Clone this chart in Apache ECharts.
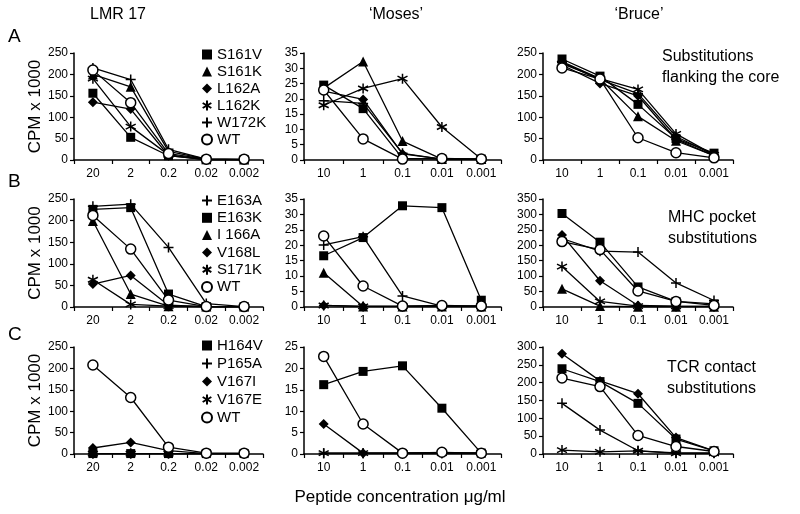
<!DOCTYPE html>
<html>
<head>
<meta charset="utf-8">
<script src="https://cdn.jsdelivr.net/npm/echarts@6/dist/echarts.min.js"></script>
<style>html,body{margin:0;padding:0;background:#fff}#c{width:800px;height:514px}</style>
</head>
<body>
<div id="c"></div>
<script>
// ---- data ----
const concLMR = ['20', '2', '0.2', '0.02', '0.002'];
const concMB = ['10', '1', '0.1', '0.01', '0.001'];
const colTitles = ['LMR 17', '\u2018Moses\u2019', '\u2018Bruce\u2019'];
const rowLetters = ['A', 'B', 'C'];
const rowNotes = [['Substitutions', 'flanking the core'], ['MHC pocket', 'substitutions'], ['TCR contact', 'substitutions']];

const namesA = ['S161V', 'S161K', 'L162A', 'L162K', 'W172K', 'WT'];
const namesB = ['E163A', 'E163K', 'I 166A', 'V168L', 'S171K', 'WT'];
const namesC = ['H164V', 'P165A', 'V167I', 'V167E', 'WT'];

// Row A (flanking), values in CPM x 1000, rows follow namesA
const A_LMR = [
  [156, 53, 10, 1, 1],
  [200, 171, 20, 2, 1],
  [135, 119, 10, 1, 1],
  [190, 78, 12, 1, 1],
  [215, 188, 25, 2, 1],
  [210, 134, 15, 2, 2]
];
const A_Moses = [
  [24.5, 16.8, 0.5, 0.3, 0.3],
  [23.5, 32.2, 6.2, 0.3, 0.3],
  [22.5, 19.8, 2.0, 0.3, 0.3],
  [17.9, 23.4, 26.6, 10.8, 0.3],
  [19.4, 18.5, 2.2, 0.3, 0.3],
  [22.9, 6.9, 0.3, 0.5, 0.3]
];
const A_Bruce = [
  [236, 196, 130, 50, 16],
  [230, 190, 102, 45, 10],
  [222, 179, 150, 48, 10],
  [225, 190, 165, 61, 12],
  [228, 188, 155, 55, 12],
  [215, 189, 52, 17, 5]
];
// Row B (MHC pocket), rows follow namesB
const B_LMR = [
  [233, 238, 138, 8, 1],
  [226, 230, 30, 1, 1],
  [199, 30, 2, 1, 1],
  [53, 73, 4, 1, 1],
  [63, 6, 2, 1, 1],
  [212, 134, 16, 1, 1]
];
const B_Moses = [
  [20.1, 22.8, 3.6, 0.3, 0.3],
  [16.6, 22.5, 32.8, 32.2, 2.2],
  [11.1, 0.2, 0.2, 0.2, 0.2],
  [0.5, 0.2, 0.2, 0.2, 0.2],
  [0.5, 0.2, 0.2, 0.2, 0.2],
  [23.0, 6.8, 0.3, 0.5, 0.3]
];
const B_Bruce = [
  [222, 181, 178, 78, 21],
  [303, 210, 65, 18, 10],
  [59, 3, 1, 1, 1],
  [233, 85, 5, 3, 2],
  [131, 18, 3, 2, 2],
  [212, 186, 52, 18, 5]
];
// Row C (TCR contact), rows follow namesC
const C_LMR = [
  [1, 1, 1, 1, 1],
  [1, 1, 1, 1, 1],
  [14, 27, 8, 1, 1],
  [1, 1, 1, 1, 1],
  [208, 132, 16, 2, 2]
];
const C_Moses = [
  [16.2, 19.3, 20.6, 10.7, 0.2],
  [0.2, 0.2, 0.2, 0.2, 0.2],
  [7.0, 0.2, 0.2, 0.2, 0.2],
  [0.2, 0.2, 0.2, 0.2, 0.2],
  [22.8, 7.0, 0.2, 0.4, 0.2]
];
const C_Bruce = [
  [239, 203, 142, 42, 9],
  [142, 67, 9, 3, 3],
  [281, 205, 169, 46, 9],
  [11, 6, 9, 2, 2],
  [213, 189, 52, 21, 7]
];

const yMax = [[250, 35, 250], [250, 35, 350], [250, 25, 300]];
const yStep = [[50, 5, 50], [50, 5, 50], [50, 5, 50]];

// ---- styles ----
const FONT = '"Liberation Sans", Arial, sans-serif';
const SYM_PLUS = 'path://M5,0L5,10M0,5L10,5';
const SYM_STAR = 'path://M5,0L5,10M0.67,2.5L9.33,7.5M0.67,7.5L9.33,2.5';
const markerOf = {
  'S161V': 'rect', 'S161K': 'triangle', 'L162A': 'diamond', 'L162K': 'star', 'W172K': 'plus', 'WT': 'circle',
  'E163A': 'plus', 'E163K': 'rect', 'I 166A': 'triangle', 'V168L': 'diamond', 'S171K': 'star',
  'H164V': 'rect', 'P165A': 'plus', 'V167I': 'diamond', 'V167E': 'star'
};
function symStyle(kind) {
  switch (kind) {
    case 'rect': return { symbol: 'rect', size: 9, item: { color: '#000' } };
    case 'triangle': return { symbol: 'triangle', size: 10, item: { color: '#000' } };
    case 'diamond': return { symbol: 'diamond', size: 10, item: { color: '#000' } };
    case 'plus': return { symbol: SYM_PLUS, size: 10, item: { color: '#000', borderColor: '#000', borderWidth: 1.5 } };
    case 'star': return { symbol: SYM_STAR, size: 10, item: { color: '#000', borderColor: '#000', borderWidth: 1.5 } };
    default: return { symbol: 'circle', size: 10, item: { color: '#fff', borderColor: '#000', borderWidth: 1.5 } };
  }
}

const colLeft = [74, 304, 543];
const colWidth = [189, 197, 190];
const rowTop = [53, 199, 347];
const rowHeight = [107, 108, 107];

const rows = [
  { names: namesA, data: [A_LMR, A_Moses, A_Bruce] },
  { names: namesB, data: [B_LMR, B_Moses, B_Bruce] },
  { names: namesC, data: [C_LMR, C_Moses, C_Bruce] }
];

const grid = [], xAxis = [], yAxis = [], series = [], legend = [], graphic = [];
rows.forEach((row, r) => {
  for (let c = 0; c < 3; c++) {
    const idx = r * 3 + c;
    grid.push({ left: colLeft[c], top: rowTop[r], width: colWidth[c], height: rowHeight[r] });
    xAxis.push({
      type: 'category', gridIndex: idx, data: c === 0 ? concLMR : concMB, boundaryGap: true,
      axisLine: { lineStyle: { color: '#000', width: 1.5 } },
      axisTick: { show: true, length: 4, interval: 0, lineStyle: { color: '#000', width: 1.2 } },
      axisLabel: { color: '#000', fontSize: 12, fontFamily: FONT, margin: 8, interval: 0, hideOverlap: false },
      splitLine: { show: false }
    });
    yAxis.push({
      type: 'value', gridIndex: idx, min: 0, max: yMax[r][c], interval: yStep[r][c],
      axisLine: { show: true, lineStyle: { color: '#000', width: 1.5 } },
      axisTick: { show: true, length: 4, lineStyle: { color: '#000', width: 1.2 } },
      axisLabel: { color: '#000', fontSize: 12, fontFamily: FONT, margin: 6 },
      splitLine: { show: false },
      name: c === 0 ? 'CPM x 1000' : '', nameLocation: 'middle', nameGap: 30,
      nameTextStyle: { color: '#000', fontSize: 17, fontFamily: FONT }
    });
    row.names.forEach((n, i) => {
      const s = symStyle(markerOf[n]);
      series.push({
        type: 'line', name: n, xAxisIndex: idx, yAxisIndex: idx, data: row.data[c][i],
        symbol: s.symbol, symbolSize: s.size, showAllSymbol: true,
        itemStyle: s.item, lineStyle: { color: '#000', width: 1.3 },
        emphasis: { disabled: true }, animation: false, z: 2 + i
      });
    });
  }
  legend.push({
    orient: 'vertical', left: 201, top: [46, 192, 337][r], padding: 0,
    itemWidth: 10, itemHeight: 10, itemGap: [0, 0.3, 1][r],
    selectedMode: false,
    textStyle: { color: '#000', fontSize: 15, fontFamily: FONT, lineHeight: 17 },
    data: row.names.map(n => ({ name: n, icon: symStyle(markerOf[n]).symbol }))
  });
  graphic.push({
    type: 'text', left: 8, top: [27, 172, 325][r],
    style: { text: rowLetters[r], fill: '#000', font: '19px ' + FONT }
  });
  graphic.push({
    type: 'text', left: [662, 668, 667][r], top: [46, 207, 357][r],
    style: { text: rowNotes[r].join('\n'), fill: '#000', font: '16px ' + FONT, lineHeight: 21 }
  });
});
const titleX = [118, 396, 639];
colTitles.forEach((t, c) => {
  graphic.push({
    type: 'text', x: titleX[c], y: 15,
    style: { text: t, fill: '#000', font: '16px ' + FONT, align: 'center', verticalAlign: 'middle' }
  });
});
graphic.push({
  type: 'text', x: 400, y: 497,
  style: { text: 'Peptide concentration \u03bcg/ml', fill: '#000', font: '17px ' + FONT, align: 'center', verticalAlign: 'middle' }
});

const chart = echarts.init(document.getElementById('c'), null, { renderer: 'canvas' });
chart.setOption({ animation: false, backgroundColor: '#fff', grid, xAxis, yAxis, series, legend, graphic });
</script>
</body>
</html>
